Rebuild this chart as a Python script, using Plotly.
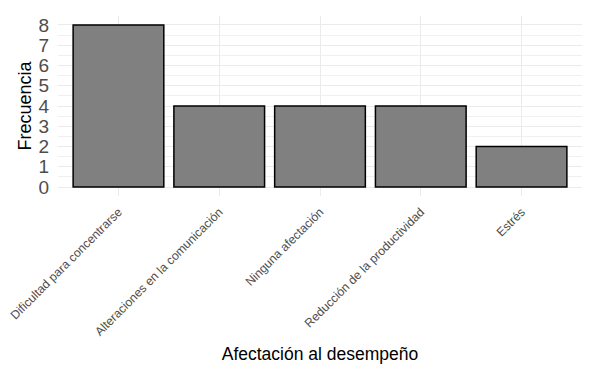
import plotly.graph_objects as go

categorias = ["Dificultad para concentrarse", "Alteraciones en la comunicación",
              "Ninguna afectación", "Reducción de la productividad", "Estrés"]
frecuencias = [8, 4, 4, 4, 2]
y_ticks = [0, 1, 2, 3, 4, 5, 6, 7, 8]

fig = go.Figure(go.Bar(
    x=categorias, y=frecuencias, width=0.9,
    marker=dict(color="#808080", line=dict(color="black", width=1.5)),
))

fig.update_layout(
    width=599, height=371,
    margin=dict(l=50, r=25, t=8, b=183),
    paper_bgcolor="white", plot_bgcolor="white",
    font=dict(family="Liberation Sans, Arial, sans-serif", color="#4D4D4D"),
    showlegend=False, bargap=0.1,
)
fig.update_xaxes(
    range=[-0.6, 4.6], showgrid=True, gridcolor="#EBEBEB", gridwidth=1,
    tickangle=-45, tickfont=dict(size=12.2, color="#4D4D4D"),
    ticks="outside", ticklen=3, tickcolor="rgba(0,0,0,0)",
    title=dict(text="Afectación al desempeño", font=dict(size=17.5, color="black"), standoff=10),
    zeroline=False, showline=False, automargin=False,
)
fig.update_yaxes(
    range=[-0.44, 8.44], tickvals=y_ticks, showgrid=True, gridcolor="#EBEBEB", gridwidth=1,
    minor=dict(dtick=0.5, showgrid=True, gridcolor="#F0F0F0", gridwidth=1),
    tickfont=dict(size=19, color="#4D4D4D"),
    ticks="outside", ticklen=4, tickcolor="rgba(0,0,0,0)",
    title=dict(text="Frecuencia", font=dict(size=18, color="black"), standoff=2),
    zeroline=False, showline=False, automargin=False,
)

fig.write_html("out.html")
